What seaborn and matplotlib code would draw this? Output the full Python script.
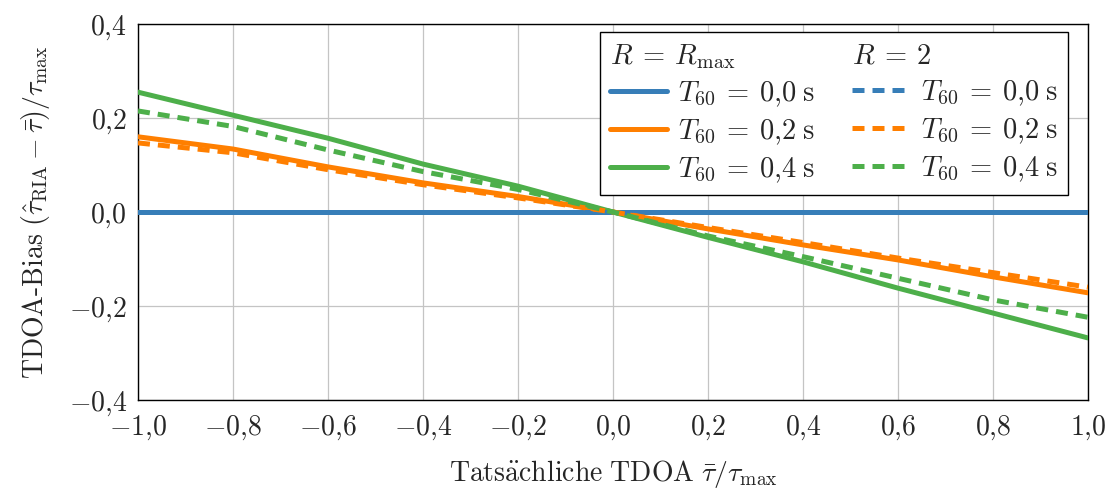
import numpy as np
import pandas as pd
import matplotlib
matplotlib.use("Agg")
import matplotlib.pyplot as plt
import seaborn as sns
from matplotlib.lines import Line2D
from matplotlib.ticker import FuncFormatter, FixedLocator

# ---- data ----
tdoa = [-1.0, -0.8, -0.6, -0.4, -0.2, 0.0, 0.2, 0.4, 0.6, 0.8, 1.0]
rmax_t00 = [0.0] * 11
rmax_t02 = [0.160, 0.134, 0.096, 0.062, 0.033, 0.0, -0.036, -0.070, -0.102, -0.138, -0.172]
rmax_t04 = [0.255, 0.206, 0.157, 0.102, 0.055, 0.0, -0.054, -0.106, -0.162, -0.215, -0.268]
r2_t00 = [0.0] * 11
r2_t02 = [0.147, 0.126, 0.090, 0.058, 0.030, 0.0, -0.033, -0.065, -0.098, -0.129, -0.160]
r2_t04 = [0.215, 0.182, 0.132, 0.086, 0.048, 0.0, -0.051, -0.095, -0.141, -0.187, -0.224]
t60_labels = ["0,0", "0,2", "0,4"]
xticks = [-1.0, -0.8, -0.6, -0.4, -0.2, 0.0, 0.2, 0.4, 0.6, 0.8, 1.0]
yticks = [-0.4, -0.2, 0.0, 0.2, 0.4]

colors = ["#377eb8", "#ff7f00", "#4daf4a"]

sns.set_theme(style="whitegrid")
plt.rcParams["font.family"] = ["cmr10"]
plt.rcParams["mathtext.fontset"] = "cm"
plt.rcParams["axes.formatter.use_mathtext"] = True
plt.rcParams["axes.unicode_minus"] = False

fig = plt.figure(figsize=(11.1, 4.94), dpi=100)
ax = fig.add_axes([0.1243, 0.1903, 0.9802 - 0.1243, 0.9514 - 0.1903])

series = {
    ("Rmax", 0): rmax_t00, ("Rmax", 1): rmax_t02, ("Rmax", 2): rmax_t04,
    ("R2", 0): r2_t00, ("R2", 1): r2_t02, ("R2", 2): r2_t04,
}
rows = []
for (r, ti), vals in series.items():
    for x, y in zip(tdoa, vals):
        rows.append({"x": x, "y": y, "R": r, "T": ti})
df = pd.DataFrame(rows)

lw = 3.6
dash = (2.4, 1.6)
for ti in range(3):
    sub = df[(df.R == "Rmax") & (df["T"] == ti)]
    sns.lineplot(data=sub, x="x", y="y", ax=ax, color=colors[ti], lw=lw,
                 legend=False, zorder=3, estimator=None)
for ti in range(3):
    sub = df[(df.R == "R2") & (df["T"] == ti)]
    sns.lineplot(data=sub, x="x", y="y", ax=ax, color=colors[ti], lw=lw,
                 legend=False, zorder=4, estimator=None)
    ax.lines[-1].set_dashes(dash)

ax.set_xlim(-1, 1)
ax.set_ylim(-0.4, 0.4)
ax.xaxis.set_major_locator(FixedLocator(xticks))
ax.yaxis.set_major_locator(FixedLocator(yticks))

def fmt(v, pos):
    s = f"{abs(v):.1f}".replace(".", "{,}")
    if v < -1e-9:
        s = "-" + s
    return "$" + s + "$"

ax.xaxis.set_major_formatter(FuncFormatter(fmt))
ax.yaxis.set_major_formatter(FuncFormatter(fmt))
ax.tick_params(axis="both", labelsize=20, direction="in", length=0, width=0.8,
               color="black", bottom=True, left=True)
ax.tick_params(axis="x", pad=10)
ax.tick_params(axis="y", pad=8)
ax.grid(True, color="#c4c4c4", lw=0.9)
for sp in ax.spines.values():
    sp.set_color("black")
    sp.set_linewidth(1.0)
ax.set_facecolor("white")

ax.set_xlabel(r"$\mathrm{Tats\ddot{a}chliche\ TDOA}\ \bar{\tau}/\tau_{\max}$", fontsize=20, labelpad=11)
ax.set_ylabel(r"$\mathrm{TDOA}\text{-}\mathrm{Bias}\ (\hat{\tau}_{\mathrm{RIA}} - \bar{\tau})/\tau_{\max}$",
              fontsize=20, labelpad=12)

# legend
blank = Line2D([], [], color="none")
def tlab(t):
    return rf"$T_{{60}} \:=\: {t.replace(',', '{,}')}\;\mathrm{{s}}$"
handles = [blank] + [Line2D([], [], color=c, lw=lw) for c in colors] + \
          [blank] + [Line2D([], [], color=c, lw=lw, dashes=dash) for c in colors]
labels = [r"$R \:=\: R_{\max}$"] + [tlab(t) for t in t60_labels] + \
         [r"$R \:=\: 2$"] + [tlab(t) for t in t60_labels]
leg = ax.legend(handles, labels, ncol=2, loc="upper right", bbox_to_anchor=(0.979, 0.979),
                borderaxespad=0, fontsize=20.5, frameon=True, fancybox=False, framealpha=1,
                edgecolor="black", handlelength=2.0, handletextpad=0.4, columnspacing=1.3,
                labelspacing=0.3, borderpad=0.35)
leg.get_frame().set_linewidth(1.0)
for vpack in leg._legend_handle_box.get_children():
    hpack = vpack.get_children()[0]
    hpack.sep = 0
    hpack.get_children()[0].set_width(0)

fig.savefig("out.png", dpi=100, facecolor="white")
